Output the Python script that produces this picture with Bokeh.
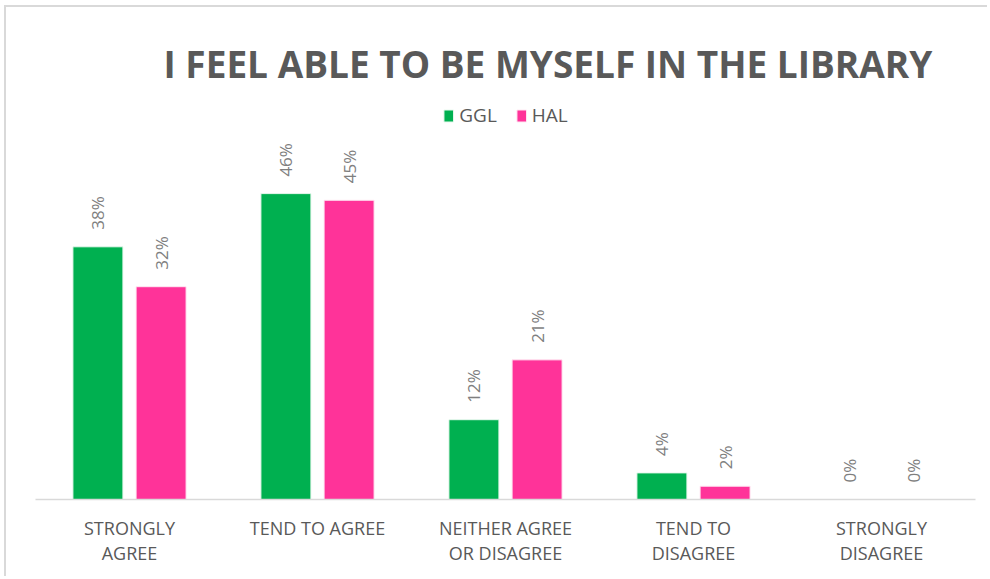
from math import pi
from bokeh.plotting import figure
from bokeh.models import FactorRange, ColumnDataSource, Legend, LegendItem
from bokeh.transform import dodge
from bokeh.core.properties import value
from bokeh.embed import file_html
from bokeh.resources import INLINE

title_text = "I FEEL ABLE TO BE MYSELF IN THE LIBRARY"
categories = ["STRONGLY\nAGREE", "TEND TO AGREE", "NEITHER AGREE\nOR DISAGREE",
              "TEND TO\nDISAGREE", "STRONGLY\nDISAGREE"]
series = ["GGL", "HAL"]
ggl = [38, 46, 12, 4, 0]
hal = [32, 45, 21, 2, 0]

GREEN = "#00B050"
PINK = "#FF3399"
FONT = "Open Sans"

src = ColumnDataSource(dict(
    cat=categories, ggl=ggl, hal=hal,
    ggl_lbl=[f"{v}%" for v in ggl], hal_lbl=[f"{v}%" for v in hal],
))

p = figure(x_range=FactorRange(*categories), y_range=(0, 60),
           width=983, height=571, output_backend="svg", toolbar_location=None,
           min_border_left=29, min_border_right=14, min_border_bottom=79,
           min_border_top=93)
p.margin = (5, 0, 0, 4)
p.styles = {"border-left": "2px solid #d9d9d9", "border-top": "2px solid #d9d9d9"}

off = 0.168
bw = 0.266
r1 = p.vbar(x=dodge("cat", -off, range=p.x_range), top="ggl", width=bw, source=src,
            fill_color=GREEN, line_color="#e8f8ee", line_width=1)
r2 = p.vbar(x=dodge("cat", off, range=p.x_range), top="hal", width=bw, source=src,
            fill_color=PINK, line_color="#ffe8f3", line_width=1)

for col, dx in (("ggl_lbl", -off), ("hal_lbl", off)):
    p.text(x=dodge("cat", dx, range=p.x_range), y=col.split("_")[0], text=col, source=src,
           angle=pi / 2, text_align="left", text_baseline="middle", y_offset=-17,
           text_font=value(FONT), text_font_size="17px", text_color="#7f7f7f")

legend = Legend(items=[LegendItem(label=series[0], renderers=[r1]),
                       LegendItem(label=series[1], renderers=[r2])],
                orientation="horizontal", location="top_center",
                label_text_font=FONT, label_text_font_size="19px",
                label_text_color="#595959", glyph_width=12, glyph_height=15,
                label_standoff=5, spacing=18, border_line_alpha=0,
                background_fill_alpha=0, margin=0, padding=2)
p.add_layout(legend)

p.title.text = title_text
p.title.align = "left"
p.title.offset = 128
p.title.standoff = 23
p.title.text_font = FONT
p.title.text_font_size = "37px"
p.title.text_font_style = "bold"
p.title.text_color = "#595959"

p.yaxis.visible = False
p.xgrid.grid_line_color = None
p.ygrid.grid_line_color = None
p.outline_line_color = None
p.xaxis.axis_line_color = "#d9d9d9"
p.xaxis.axis_line_width = 1.5
p.xaxis.major_tick_line_color = None
p.xaxis.minor_tick_line_color = None
p.xaxis.major_label_text_font = FONT
p.xaxis.major_label_text_font_size = "18px"
p.xaxis.major_label_text_color = "#595959"
p.xaxis.major_label_text_line_height = 1.05
p.xaxis.major_label_standoff = 10

open("out.html", "w").write(file_html(p, INLINE))
